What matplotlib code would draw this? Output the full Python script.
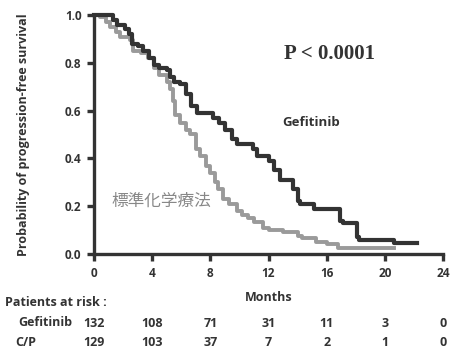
import matplotlib
matplotlib.use('Agg')
import matplotlib.pyplot as plt

# Kaplan-Meier steps (months, probability)
gef_t = [0, 1.3, 1.6, 2.1, 2.4, 2.6, 3.0, 3.4, 3.8, 4.1, 4.5, 5.0, 5.2, 5.5, 5.9,
         6.3, 6.7, 7.1, 8.2, 8.6, 9.0, 9.5, 9.8, 10.9, 11.2, 12.0, 12.4, 12.8,
         13.7, 14.0, 14.2, 15.1, 16.9, 17.1, 18.1, 18.2, 20.6, 22.2]
gef_s = [1.0, 0.98, 0.96, 0.94, 0.92, 0.88, 0.87, 0.85, 0.82, 0.79, 0.78, 0.77,
         0.74, 0.72, 0.71, 0.67, 0.62, 0.59, 0.57, 0.55, 0.52, 0.48, 0.46, 0.44,
         0.41, 0.39, 0.35, 0.31, 0.27, 0.22, 0.21, 0.19, 0.14, 0.13, 0.07, 0.06,
         0.045, 0.045]

chemo_t = [0, 0.4, 0.8, 1.1, 1.5, 1.8, 2.5, 2.7, 3.2, 3.7, 4.1, 4.5, 5.0, 5.2,
           5.4, 5.6, 5.9, 6.3, 6.6, 7.0, 7.3, 7.7, 8.0, 8.3, 8.5, 8.9, 9.3, 9.8,
           10.2, 10.6, 11.0, 11.6, 12.0, 13.0, 14.0, 14.3, 15.3, 16.0, 16.8, 20.6]
chemo_s = [1.0, 0.99, 0.97, 0.95, 0.93, 0.91, 0.895, 0.85, 0.84, 0.82, 0.78,
           0.75, 0.72, 0.69, 0.64, 0.58, 0.55, 0.52, 0.50, 0.44, 0.41, 0.37,
           0.34, 0.30, 0.27, 0.23, 0.21, 0.18, 0.165, 0.15, 0.135, 0.11, 0.10,
           0.09, 0.075, 0.065, 0.05, 0.04, 0.025, 0.025]

risk_months = [0, 4, 8, 12, 16, 20, 24]
risk_gef = [132, 108, 71, 31, 11, 3, 0]
risk_cp = [129, 103, 37, 7, 2, 1, 0]

x_ticks = [0, 4, 8, 12, 16, 20, 24]
y_ticks = [0.0, 0.2, 0.4, 0.6, 0.8, 1.0]

dark = '#333333'
grey = '#9a9a9a'
sans = ['Open Sans', 'DejaVu Sans']

fig = plt.figure(figsize=(4.51, 3.52), dpi=100)
ax = fig.add_axes([0.2084, 0.2784, 0.7739, 0.679])

ax.step(chemo_t, chemo_s, where='post', color=grey, lw=2.8, clip_on=False)
ax.step(gef_t, gef_s, where='post', color=dark, lw=3.0, clip_on=False)

ax.set_xlim(0, 24)
ax.set_ylim(0, 1)
ax.set_xticks(x_ticks)
ax.set_yticks(y_ticks)
ax.set_yticklabels(['%.1f' % v for v in y_ticks])
for s in ['top', 'right']:
    ax.spines[s].set_visible(False)
for s in ['left', 'bottom']:
    ax.spines[s].set_linewidth(2.4)
    ax.spines[s].set_color(dark)
ax.tick_params(width=2.4, length=5, color=dark, labelsize=8.5, pad=4)
for lab in ax.get_xticklabels() + ax.get_yticklabels():
    lab.set_fontweight('bold')
    lab.set_family(sans)
    lab.set_color(dark)

ax.set_ylabel('Probability of progression-free survival', fontsize=9,
              fontweight='bold', family=sans, color=dark, labelpad=25)

ax.text(16.2, 0.835, 'P < 0.0001', family='Liberation Serif', fontweight='bold',
        fontsize=15, color=dark, ha='center', va='center')
ax.text(14.9, 0.55, 'Gefitinib', family=sans, fontweight='bold', fontsize=9.5,
        color=dark, ha='center', va='center')
ax.text(1.2, 0.22, '標準化学療法', family=['Noto Sans CJK JP', 'DejaVu Sans'],
        fontsize=12, color='#888888', ha='left', va='center')

ax.text(12, -0.18, 'Months', transform=ax.get_xaxis_transform(), family=sans,
        fontweight='bold', fontsize=9, color=dark, ha='center', va='center')

fig.text(0.012, 1 - 302 / 352, 'Patients at risk :', family=sans,
         fontweight='bold', fontsize=9, color=dark, ha='left', va='center')
fig.text(0.04, 1 - 323 / 352, 'Gefitinib', family=sans, fontweight='bold',
         fontsize=9, color=dark, ha='left', va='center')
fig.text(0.034, 1 - 343 / 352, 'C/P', family=sans, fontweight='bold',
         fontsize=9, color=dark, ha='left', va='center')

tr = ax.get_xaxis_transform()
for m, g, c in zip(risk_months, risk_gef, risk_cp):
    ax.text(m, -0.289, str(g), transform=tr, family=sans, fontweight='bold',
            fontsize=9, color=dark, ha='center', va='center', clip_on=False)
    ax.text(m, -0.372, str(c), transform=tr, family=sans, fontweight='bold',
            fontsize=9, color=dark, ha='center', va='center', clip_on=False)

fig.savefig('out.png', dpi=100)
